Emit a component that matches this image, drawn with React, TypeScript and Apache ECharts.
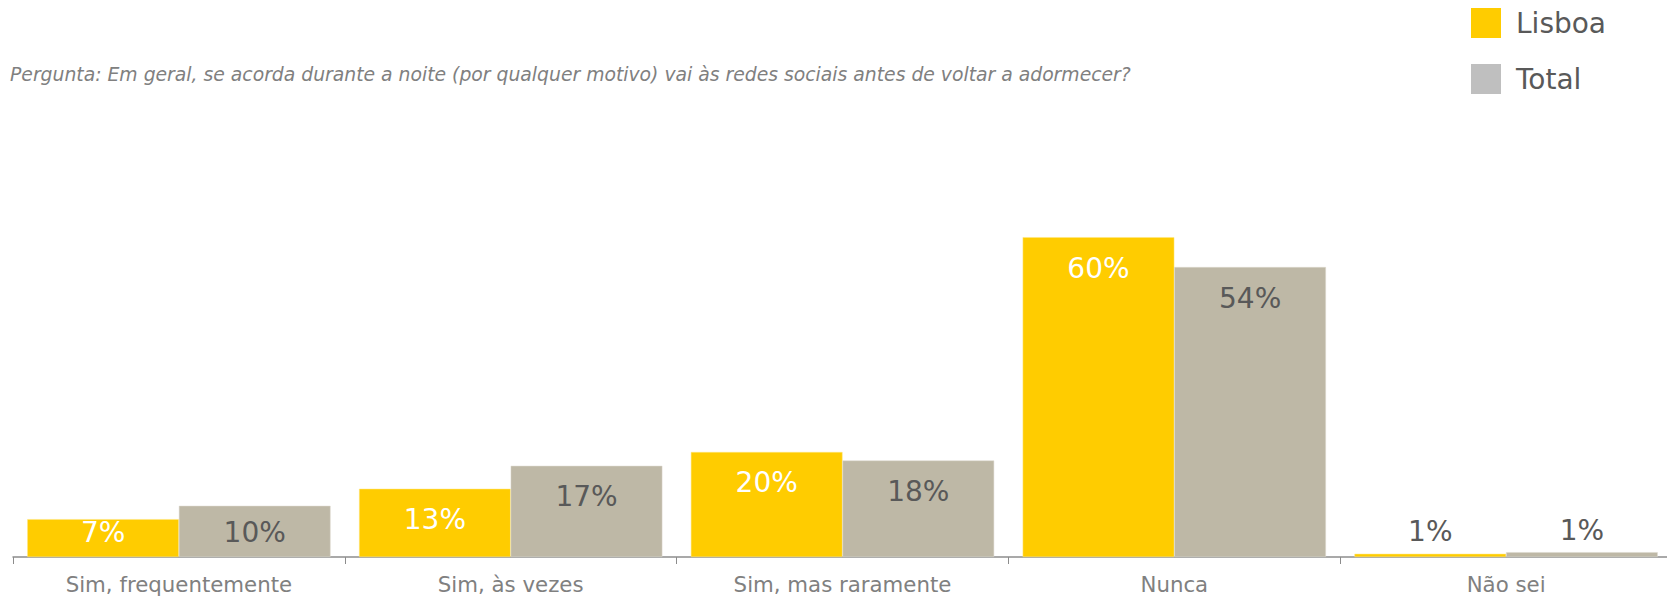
import React, { useEffect, useRef } from "react";
import * as echarts from "echarts";

const categories = ["Sim, frequentemente", "Sim, às vezes", "Sim, mas raramente", "Nunca", "Não sei"];
const lisboaValues = [7.1, 12.8, 19.7, 60, 0.6];
const totalValues = [9.6, 17.1, 18.1, 54.4, 0.9];
const seriesNames = ["Lisboa", "Total"];
const questionText =
  "Pergunta: Em geral, se acorda durante a noite (por qualquer motivo) vai às redes sociais antes de voltar a adormecer?";

const FONT = "'DejaVu Sans', Verdana, sans-serif";

export default function App() {
  const ref = useRef<HTMLDivElement>(null);
  useEffect(() => {
    document.body.style.margin = "0";
    document.body.style.overflow = "hidden";
    if (!ref.current) return;
    const chart = echarts.init(ref.current, null, { renderer: "svg" });
    const mkData = (vals: number[], insideColor: string) =>
      vals.map((v) => {
        let label: any;
        if (v < 3) label = { position: "top", distance: 8, color: "#595959" };
        else if (v < 12) label = { position: "insideBottom", distance: 11, color: insideColor };
        else label = { position: "insideTop", distance: 17, color: insideColor };
        return { value: v, label };
      });
    chart.setOption({
      animation: false,
      textStyle: { fontFamily: FONT },
      title: {
        text: questionText,
        left: 5,
        top: 60,
        textStyle: { fontFamily: FONT, fontSize: 18.8, fontStyle: "italic", fontWeight: "normal", color: "#808080" },
      },
      legend: {
        orient: "vertical",
        left: 1466,
        top: 3,
        itemWidth: 30,
        itemHeight: 30,
        itemGap: 26,
        icon: "rect",
        textStyle: { fontFamily: FONT, fontSize: 28, color: "#595959", padding: [0, 0, 0, 10] },
        data: [
          { name: seriesNames[0], itemStyle: { color: "#FFCC00", borderWidth: 0 } },
          { name: seriesNames[1], itemStyle: { color: "#BFBFBF", borderWidth: 0 } },
        ],
      },
      grid: { left: 13, width: 1659, top: 24, bottom: 41, containLabel: false },
      xAxis: {
        type: "category",
        data: categories,
        boundaryGap: true,
        axisLine: { show: true, lineStyle: { color: "#8c8c8c", width: 1.5 } },
        axisTick: { show: true, alignWithLabel: false, length: 7, lineStyle: { color: "#8c8c8c" } },
        axisLabel: { fontFamily: FONT, fontSize: 21.3, color: "#808080", margin: 17, interval: 0 },
      },
      yAxis: {
        type: "value",
        min: 0,
        max: 100,
        show: false,
        splitLine: { show: false },
      },
      series: [
        {
          name: seriesNames[0],
          type: "bar",
          barGap: "0%",
          barCategoryGap: "8.6%",
          data: mkData(lisboaValues, "#ffffff"),
          itemStyle: { color: "#FFCC00", borderColor: "#FFE680", borderWidth: 0.5 },
          label: {
            show: true,
            fontFamily: FONT,
            fontSize: 28,
            formatter: (p: any) => Math.round(p.value) + "%",
          },
        },
        {
          name: seriesNames[1],
          type: "bar",
          data: mkData(totalValues, "#595959"),
          itemStyle: { color: "#BEB8A6", borderColor: "#DDD9CE", borderWidth: 0.5 },
          label: {
            show: true,
            fontFamily: FONT,
            fontSize: 28,
            formatter: (p: any) => Math.round(p.value) + "%",
          },
        },
      ],
    });
    return () => chart.dispose();
  }, []);
  return <div ref={ref} style={{ width: 1680, height: 598 }} />;
}
